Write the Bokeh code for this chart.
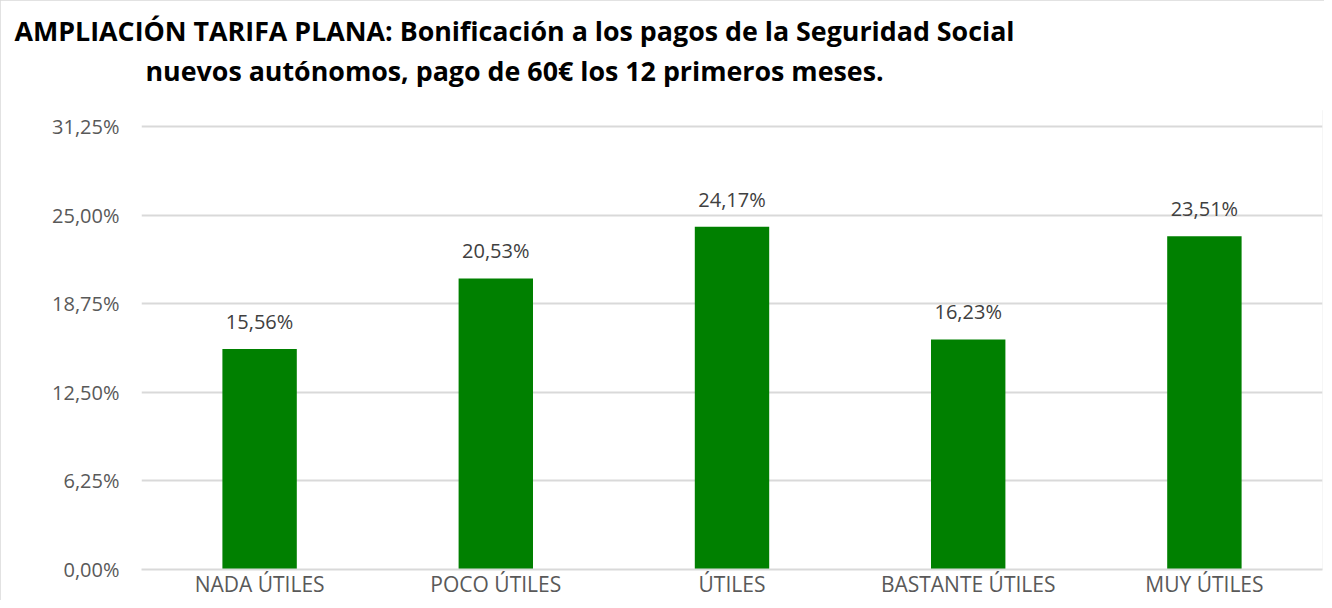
from bokeh.plotting import figure
from bokeh.models import (ColumnDataSource, FixedTicker, CustomJSTickFormatter,
                          LabelSet, Range1d, Title)
from bokeh.core.properties import value
from bokeh.embed import file_html
from bokeh.resources import INLINE

categories = ["NADA ÚTILES", "POCO ÚTILES", "ÚTILES", "BASTANTE ÚTILES", "MUY ÚTILES"]
values = [15.56, 20.53, 24.17, 16.23, 23.51]
y_ticks = [0, 6.25, 12.5, 18.75, 25, 31.25]
title_lines = [
    "AMPLIACIÓN TARIFA PLANA: Bonificación a los pagos de la Seguridad Social",
    "nuevos autónomos, pago de 60€ los 12 primeros meses.",
]
value_labels = [f"{v:.2f}".replace(".", ",") + "%" for v in values]

FONT = "Open Sans"
GRID = "#d9d9d9"
TXT = "#595959"

H = 600
BOTTOM = 31          # space for category labels
TOP = 110            # frame top (px)
AXIS_TOP_PX = 126    # pixel row of the 31,25% gridline
frame_h = H - BOTTOM - TOP
y_top = y_ticks[-1] * frame_h / (frame_h - (AXIS_TOP_PX - TOP))

src = ColumnDataSource(dict(cat=categories, val=values, lab=value_labels))

p = figure(x_range=categories, y_range=Range1d(0, y_top), width=1324, height=H,
           output_backend="svg", toolbar_location=None,
           min_border_left=141, min_border_right=2, min_border_top=TOP,
           min_border_bottom=BOTTOM)
p.outline_line_color = None
p.styles = {"outline": "2px solid #d9d9d9", "outline-offset": "-2px"}

p.vbar(x="cat", top="val", width=0.315, source=src, color="#008000", line_color=None)

p.add_layout(LabelSet(x="cat", y="val", text="lab", source=src, y_offset=14,
                      text_align="center", text_baseline="bottom",
                      text_font=value(FONT), text_font_size="20px", text_color="#404040"))

# axes
p.yaxis.ticker = FixedTicker(ticks=y_ticks)
p.yaxis.formatter = CustomJSTickFormatter(code="return tick.toFixed(2).replace('.', ',') + '%';")
p.yaxis.axis_line_color = None
p.yaxis.major_tick_line_color = None
p.yaxis.minor_tick_line_color = None
p.yaxis.major_tick_out = 0
p.yaxis.major_label_standoff = 22
p.yaxis.major_label_text_font = FONT
p.yaxis.major_label_text_font_size = "20px"
p.yaxis.major_label_text_color = TXT

p.xaxis.axis_line_color = GRID
p.xaxis.axis_line_width = 2
p.xaxis.major_tick_line_color = None
p.xaxis.major_tick_out = 0
p.xaxis.major_tick_in = 0
p.xaxis.major_label_standoff = 0
p.xaxis.major_label_text_font = FONT
p.xaxis.major_label_text_font_size = "21px"
p.xaxis.major_label_text_color = TXT

p.xgrid.grid_line_color = None
p.ygrid.grid_line_color = GRID
p.ygrid.grid_line_width = 2

# title: spacer nearest the frame, then line 2, then line 1
p.add_layout(Title(text=" ", text_font_size="1px", standoff=19), "above")
p.add_layout(Title(text=title_lines[1], align="left", offset=4, standoff=0,
                   text_font=FONT, text_font_size="26.8px", text_font_style="bold",
                   text_color="black"), "above")
p.add_layout(Title(text=title_lines[0], align="left", offset=-127, standoff=2,
                   text_font=FONT, text_font_size="26.8px", text_font_style="bold",
                   text_color="black"), "above")

open("out.html", "w").write(file_html(p, INLINE))
